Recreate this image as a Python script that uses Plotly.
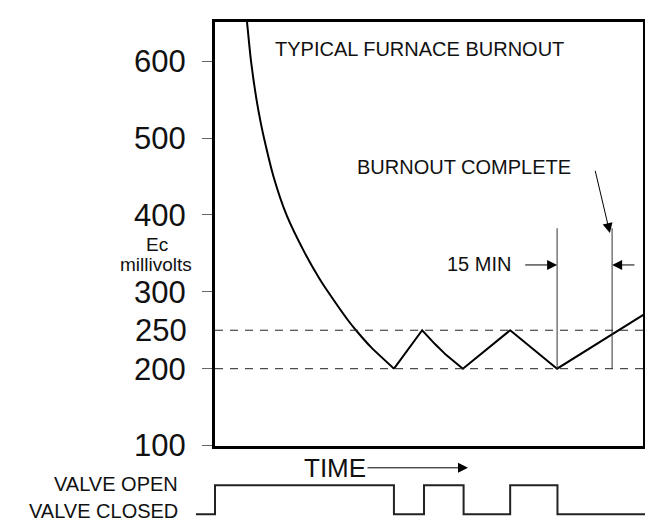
import plotly.graph_objects as go

W, H = 653, 529
FONT = "Arial, Liberation Sans, sans-serif"

# ---------------- data (time in minutes, Ec in millivolts) ----------------
decay_t = [8.4, 8.73, 9.82, 11.32, 12.55, 13.36, 15.95, 19.5, 24.55, 28.5, 30.82, 36.27, 38.45, 42.55, 48.82]
decay_mv = [667, 651, 600, 550, 518, 500, 450, 400, 350, 317, 300, 263, 250, 228, 200]

cycle_t = [48.82, 56.5, 60.0, 63.0, 67.6, 80.5, 93.3, 116.8]
cycle_mv = [200, 250, 232, 218, 200, 250, 200, 270]

band_low, band_high = 200, 250
marker_t = [93.3, 108.3]           # 15 min interval
marker_top = 382.7

valve_t = [-5.2, 0.0, 48.8, 57.0, 67.8, 80.5, 93.4, 122.0]
valve_state = [0, 1, 0, 1, 0, 1, 0, 0]

y_ticks = [100, 200, 300, 400, 500, 600]
y_extra_tick = [250]

X_MAX = 428 / (55 / 15)
Y_RANGE = [100, 651.5]

# ---------------- layout geometry helpers (pixels -> paper) ----------------
L, R, T, B = 207, 635, 14, 453


def px(x):
    return x / W


def py(y):
    return (H - y) / H


fig = go.Figure()

# main curve
fig.add_trace(go.Scatter(x=decay_t, y=decay_mv, mode="lines",
                         line=dict(color="black", width=2, shape="spline", smoothing=0.7),
                         hoverinfo="skip", showlegend=False))
fig.add_trace(go.Scatter(x=cycle_t, y=cycle_mv, mode="lines",
                         line=dict(color="black", width=2),
                         hoverinfo="skip", showlegend=False))

# dashed band lines
fig.add_trace(go.Scatter(x=[0, X_MAX], y=[band_low, band_low], mode="lines",
                         line=dict(color="#222", width=1, dash="8px,7px"),
                         hoverinfo="skip", showlegend=False))
fig.add_trace(go.Scatter(x=[0, X_MAX], y=[band_high, band_high], mode="lines",
                         line=dict(color="#222", width=1, dash="8px,7px"),
                         xaxis="x", yaxis="y2",
                         hoverinfo="skip", showlegend=False))

# vertical marker lines
fig.add_trace(go.Scatter(x=[marker_t[0], marker_t[0]], y=[cycle_mv[6], marker_top], mode="lines",
                         line=dict(color="#333", width=1), hoverinfo="skip", showlegend=False))
fig.add_trace(go.Scatter(x=[marker_t[1], marker_t[1]], y=[band_low, marker_top], mode="lines",
                         line=dict(color="#333", width=1), hoverinfo="skip", showlegend=False))

# valve trace
fig.add_trace(go.Scatter(x=valve_t, y=valve_state, mode="lines",
                         line=dict(color="#222", width=2, shape="hv"),
                         xaxis="x3", yaxis="y3", hoverinfo="skip", showlegend=False))

xd = [px(L), px(R)]
yd = [py(B), py(T)]

TICKFONT = dict(size=31, color="#111", family=FONT)

fig.update_layout(
    width=W, height=H,
    margin=dict(l=0, r=0, t=0, b=0),
    paper_bgcolor="white", plot_bgcolor="white",
    font=dict(family=FONT, color="#111"),
    xaxis=dict(domain=xd, range=[0, X_MAX], showgrid=False, zeroline=False,
               showticklabels=False, ticks="", showline=True, linecolor="black",
               linewidth=3, mirror=True),
    yaxis=dict(domain=yd, range=Y_RANGE, showgrid=False, zeroline=False,
               tickmode="array", tickvals=y_ticks, ticktext=[str(v) for v in y_ticks],
               ticks="outside", ticklen=10, tickwidth=1, tickcolor="#666",
               tickfont=TICKFONT, ticklabelstandoff=10,
               showline=True, linecolor="black", linewidth=3, mirror=True),
    yaxis2=dict(overlaying="y", matches="y", side="left", anchor="x",
                showgrid=False, zeroline=False, showline=False,
                tickmode="array", tickvals=y_extra_tick, ticktext=[str(v) for v in y_extra_tick],
                ticks="outside", ticklen=10, tickcolor="rgba(0,0,0,0)",
                tickfont=TICKFONT, ticklabelstandoff=11),
    xaxis3=dict(domain=[0, 1], range=[-L / (55 / 15), (W - L) / (55 / 15)],
                anchor="y3", visible=False),
    yaxis3=dict(domain=[py(527), py(488)], range=[-0.1, 1.2], anchor="x3", visible=False),
)

ann = []
ann.append(dict(x=15.8, y=616.3, xref="x", yref="y", text="TYPICAL FURNACE BURNOUT",
                showarrow=False, xanchor="left", yanchor="middle",
                font=dict(size=20, family=FONT, color="#111")))
ann.append(dict(x=67.9, y=461.8, xref="x", yref="y", text="BURNOUT COMPLETE",
                showarrow=False, xanchor="center", yanchor="middle",
                font=dict(size=20, family=FONT, color="#111")))
ann.append(dict(x=107.7, y=376.4, ax=103.6, ay=459.3, xref="x", yref="y",
                axref="x", ayref="y", text="", showarrow=True,
                arrowhead=2, arrowsize=2, arrowwidth=1, arrowcolor="black"))
ann.append(dict(x=72.0, y=336.0, xref="x", yref="y", text="15 MIN",
                showarrow=False, xanchor="center", yanchor="middle",
                font=dict(size=20, family=FONT, color="#111")))
ann.append(dict(x=marker_t[0], y=334.9, ax=84.2, ay=334.9, xref="x", yref="y",
                axref="x", ayref="y", text="", showarrow=True,
                arrowhead=2, arrowsize=2, arrowwidth=1, arrowcolor="black"))
ann.append(dict(x=marker_t[1], y=334.9, ax=114.8, ay=334.9, xref="x", yref="y",
                axref="x", ayref="y", text="", showarrow=True,
                arrowhead=2, arrowsize=2, arrowwidth=1, arrowcolor="black"))
ann.append(dict(x=px(149), y=py(245), xref="paper", yref="paper", text="Ec",
                showarrow=False, xanchor="center", yanchor="middle",
                font=dict(size=19, family=FONT, color="#111")))
ann.append(dict(x=px(148), y=py(266), xref="paper", yref="paper", text="millivolts",
                showarrow=False, xanchor="center", yanchor="middle",
                font=dict(size=19, family=FONT, color="#111")))
ann.append(dict(x=px(326.5), y=py(476), xref="paper", yref="paper", text="TIME",
                showarrow=False, xanchor="center", yanchor="middle",
                font=dict(size=26, family=FONT, color="#111")))
ann.append(dict(x=px(460), y=py(476), xref="paper", yref="paper", text="",
                ax=-102, ay=0, showarrow=True,
                arrowhead=2, arrowsize=2, arrowwidth=1, arrowcolor="black"))
ann.append(dict(x=px(172), y=py(493), xref="paper", yref="paper", text="VALVE OPEN",
                showarrow=False, xanchor="right", yanchor="middle",
                font=dict(size=20, family=FONT, color="#111")))
ann.append(dict(x=px(172), y=py(521), xref="paper", yref="paper", text="VALVE CLOSED",
                showarrow=False, xanchor="right", yanchor="middle",
                font=dict(size=20, family=FONT, color="#111")))
fig.update_layout(annotations=ann)

fig.write_html("out.html")
